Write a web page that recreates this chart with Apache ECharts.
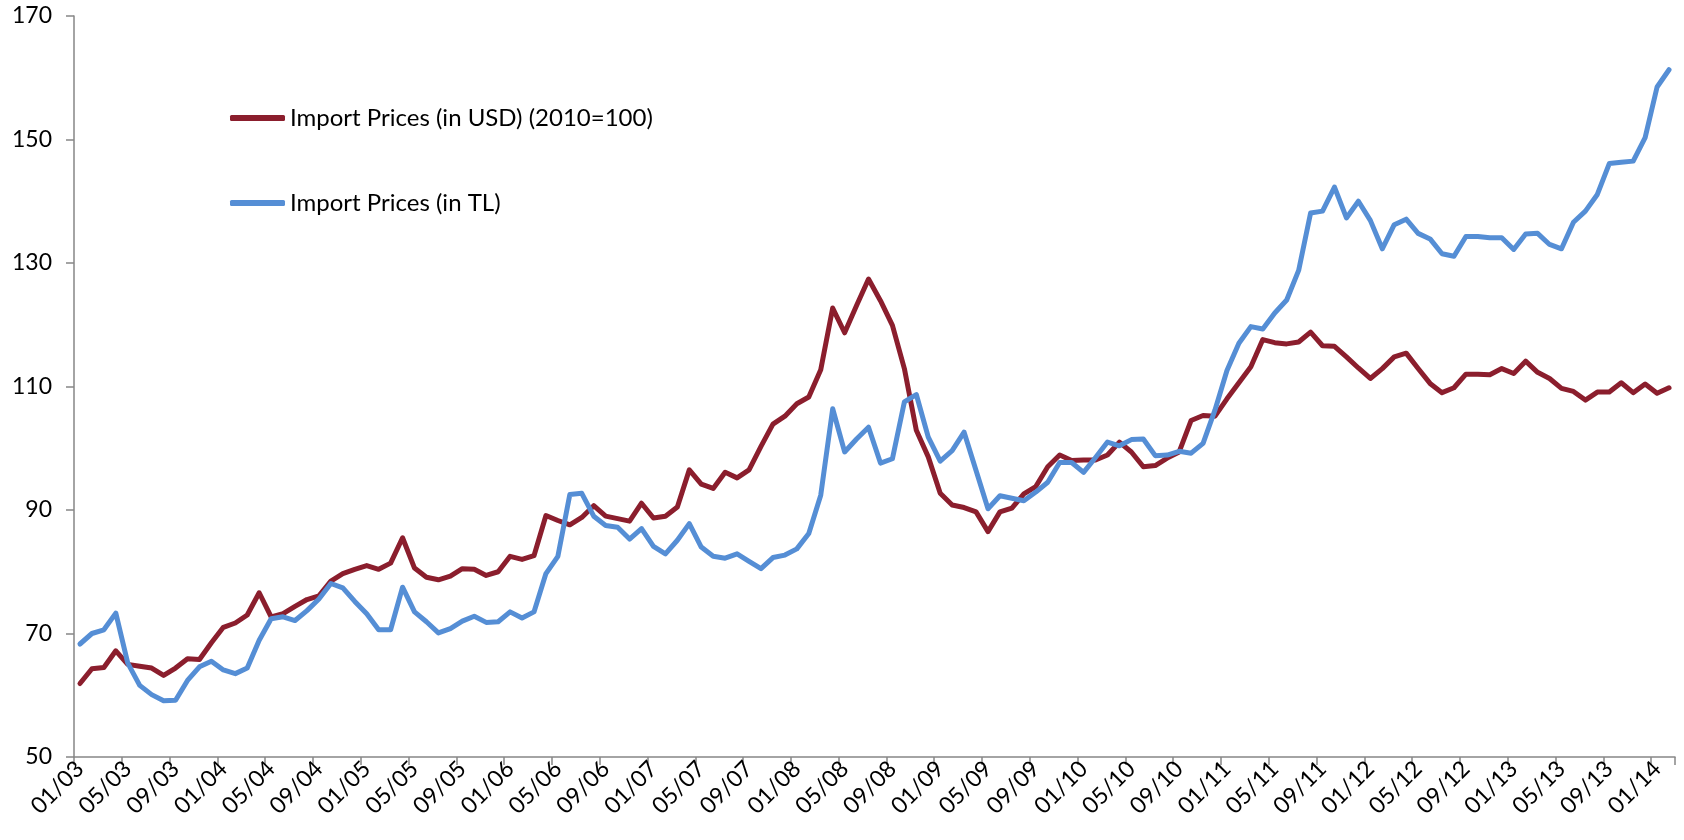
<!DOCTYPE html>
<html>
<head>
<meta charset="utf-8">
<script src="https://cdn.jsdelivr.net/npm/echarts@6/dist/echarts.min.js"></script>
<style>
html,body{margin:0;padding:0;background:#fff;}
#chart{width:1684px;height:840px;}
</style>
</head>
<body>
<div id="chart"></div>
<script>
var categories = [
"01/03","02/03","03/03","04/03","05/03","06/03","07/03","08/03","09/03","10/03","11/03","12/03",
"01/04","02/04","03/04","04/04","05/04","06/04","07/04","08/04","09/04","10/04","11/04","12/04",
"01/05","02/05","03/05","04/05","05/05","06/05","07/05","08/05","09/05","10/05","11/05","12/05",
"01/06","02/06","03/06","04/06","05/06","06/06","07/06","08/06","09/06","10/06","11/06","12/06",
"01/07","02/07","03/07","04/07","05/07","06/07","07/07","08/07","09/07","10/07","11/07","12/07",
"01/08","02/08","03/08","04/08","05/08","06/08","07/08","08/08","09/08","10/08","11/08","12/08",
"01/09","02/09","03/09","04/09","05/09","06/09","07/09","08/09","09/09","10/09","11/09","12/09",
"01/10","02/10","03/10","04/10","05/10","06/10","07/10","08/10","09/10","10/10","11/10","12/10",
"01/11","02/11","03/11","04/11","05/11","06/11","07/11","08/11","09/11","10/11","11/11","12/11",
"01/12","02/12","03/12","04/12","05/12","06/12","07/12","08/12","09/12","10/12","11/12","12/12",
"01/13","02/13","03/13","04/13","05/13","06/13","07/13","08/13","09/13","10/13","11/13","12/13",
"01/14","02/14"
];

var importUSD = [
61.9,64.3,64.5,67.2,65.0,64.7,64.4,63.2,64.4,65.9,65.8,68.5,
71.0,71.7,73.0,76.6,72.7,73.2,74.4,75.5,76.1,78.5,79.7,80.4,
81.0,80.4,81.4,85.5,80.6,79.1,78.7,79.3,80.5,80.4,79.4,80.0,
82.5,82.0,82.6,89.1,88.3,87.6,88.8,90.7,89.0,88.6,88.2,91.1,
88.7,89.0,90.5,96.5,94.2,93.5,96.1,95.2,96.5,100.3,103.9,105.2,
107.2,108.3,112.7,122.7,118.7,123.1,127.4,123.9,119.9,112.9,102.9,98.6,
92.7,90.8,90.4,89.7,86.5,89.7,90.3,92.6,93.8,97.0,98.9,98.0,
98.1,98.1,98.9,101.0,99.4,97.0,97.2,98.4,99.4,104.5,105.3,105.2,
108.0,110.6,113.2,117.6,117.1,116.9,117.2,118.8,116.6,116.5,114.8,113.0,
111.3,112.9,114.8,115.4,112.9,110.5,109.0,109.8,112.0,112.0,111.9,112.9,
112.1,114.1,112.3,111.3,109.7,109.2,107.8,109.1,109.1,110.6,109.0,110.4,
108.9,109.8
];

var importTL = [
68.3,70.0,70.6,73.3,65.2,61.6,60.1,59.1,59.2,62.4,64.6,65.5,
64.1,63.5,64.4,68.9,72.4,72.7,72.1,73.7,75.6,78.1,77.4,75.2,
73.2,70.6,70.6,77.5,73.5,71.9,70.1,70.8,72.0,72.8,71.8,71.9,
73.5,72.5,73.5,79.7,82.5,92.5,92.7,89.0,87.5,87.2,85.3,87.0,
84.1,82.9,85.1,87.8,84.0,82.5,82.2,82.9,81.7,80.5,82.3,82.7,
83.7,86.2,92.4,106.4,99.4,101.5,103.4,97.6,98.3,107.5,108.7,101.8,
97.9,99.6,102.6,96.4,90.2,92.3,91.9,91.5,92.9,94.5,97.7,97.7,
96.1,98.5,101.0,100.4,101.4,101.5,98.8,98.9,99.5,99.2,100.8,106.2,
112.6,117.0,119.7,119.3,121.9,124.0,128.8,138.1,138.4,142.3,137.3,140.0,
136.9,132.3,136.2,137.1,134.8,133.9,131.5,131.1,134.3,134.3,134.1,134.1,
132.2,134.7,134.8,133.0,132.3,136.6,138.4,141.1,146.1,146.3,146.5,150.3,
158.5,161.3
];

var seriesNames = ["Import Prices (in USD) (2010=100)", "Import Prices (in TL)"];
var yTicks = { min: 50, max: 170, interval: 20 };

var FONT = 'Lato, "Open Sans", sans-serif';
var chart = echarts.init(document.getElementById('chart'), null, { renderer: 'canvas' });
chart.setOption({
  animation: false,
  backgroundColor: '#ffffff',
  grid: { left: 74, right: 9, top: 16, bottom: 83, containLabel: false },
  legend: {
    orient: 'vertical',
    left: 225,
    top: 99,
    itemWidth: 55,
    itemHeight: 6,
    itemGap: 57,
    icon: 'roundRect',
    textStyle: { fontFamily: FONT, fontSize: 24, color: '#000', lineHeight: 28 },
    data: seriesNames
  },
  xAxis: {
    type: 'category',
    data: categories,
    boundaryGap: true,
    axisLine: { lineStyle: { color: '#868686', width: 1.5 } },
    axisTick: { show: true, interval: 3, length: 8, lineStyle: { color: '#868686', width: 1.5 } },
    axisLabel: { interval: 3, rotate: 45, margin: 8, fontFamily: FONT, fontSize: 23, color: '#000' },
    splitLine: { show: false }
  },
  yAxis: {
    type: 'value',
    min: yTicks.min,
    max: yTicks.max,
    interval: yTicks.interval,
    axisLine: { show: true, lineStyle: { color: '#868686', width: 1.5 } },
    axisTick: { show: true, length: 8, lineStyle: { color: '#868686', width: 1.5 } },
    axisLabel: { margin: 22, fontFamily: FONT, fontSize: 23, color: '#000' },
    splitLine: { show: false }
  },
  series: [
    {
      name: seriesNames[0],
      type: 'line',
      data: importUSD,
      showSymbol: false,
      symbol: 'none',
      lineStyle: { color: '#8B1E2D', width: 5, join: 'round', cap: 'round' },
      itemStyle: { color: '#8B1E2D' }
    },
    {
      name: seriesNames[1],
      type: 'line',
      data: importTL,
      showSymbol: false,
      symbol: 'none',
      lineStyle: { color: '#558ED5', width: 5, join: 'round', cap: 'round' },
      itemStyle: { color: '#558ED5' }
    }
  ]
});
</script>
</body>
</html>
